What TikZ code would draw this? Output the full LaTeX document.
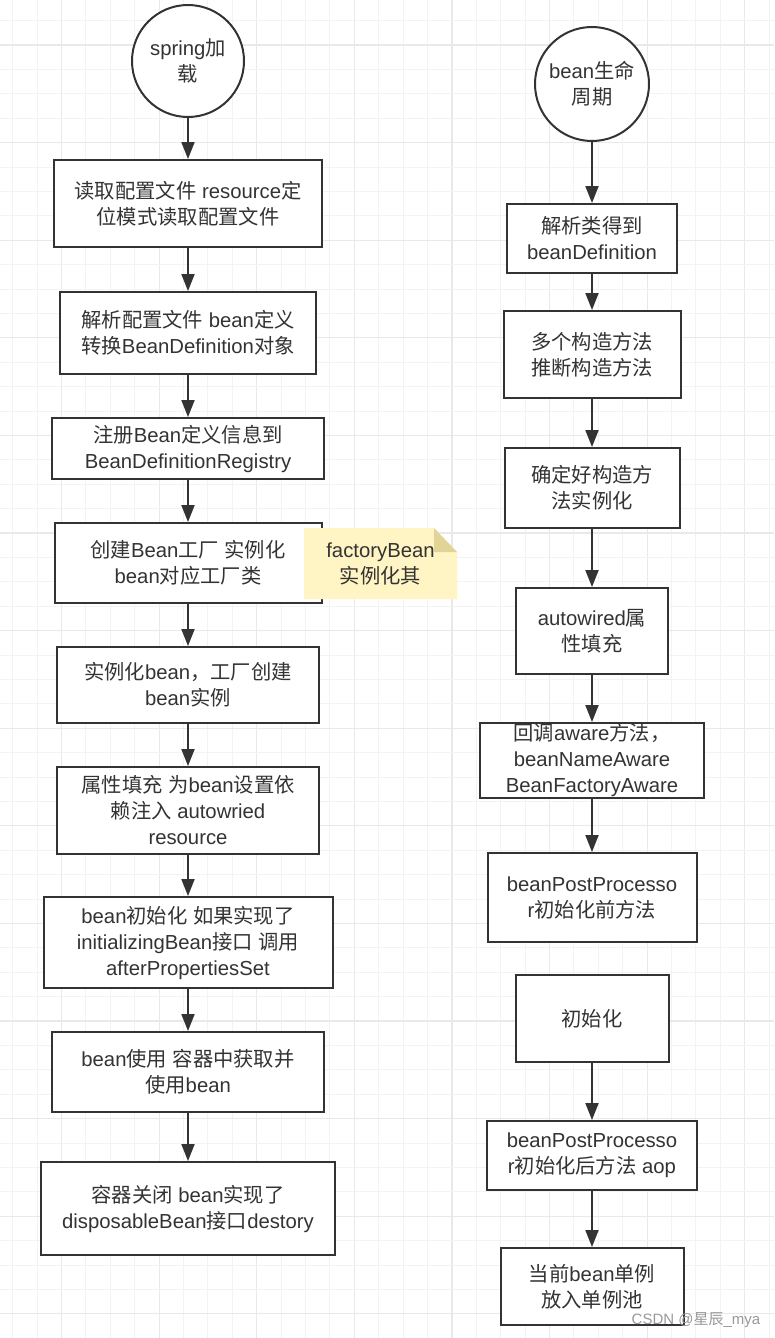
\documentclass[tikz,border=0pt]{standalone}
\usepackage{fontspec}
\setmainfont{Liberation Sans}
\newfontfamily\cjk{Noto Sans CJK SC}
\newcommand\zh[1]{{\cjk #1}}
\usetikzlibrary{arrows.meta}
\definecolor{ink}{HTML}{333333}
\definecolor{gridminor}{HTML}{F3F3F3}
\definecolor{gridmajor}{HTML}{E9E9E9}
\definecolor{notefill}{HTML}{FFF4C3}
\definecolor{foldfill}{HTML}{E2D396}
\tikzset{
  box/.style={draw=ink, line width=2pt, fill=white, inner sep=0pt, align=center,
    text=ink, font=\fontsize{20.3}{26}\selectfont},
  rnd/.style={box, circle},
  flow/.style={draw=ink, line width=2pt, -{Triangle[length=17pt,width=13pt]}},
  notebox/.style={inner sep=0pt, align=center, text=ink,
    font=\fontsize{20.3}{26}\selectfont, minimum width=153pt, minimum height=71pt},
  wmark/.style={text=black!40, font=\fontsize{15}{18}\selectfont, inner sep=0pt},
}
\begin{document}
\begin{tikzpicture}[x=1pt,y=-1pt]
\useasboundingbox (0,0) rectangle (774,1338);
\fill[white] (0,0) rectangle (774,1338);
% grid
\foreach \i in {0,...,31}{
  \pgfmathtruncatemacro\m{mod(\i,4)}
  \pgfmathsetmacro\xx{12.7+24.4*\i}
  \ifnum\m=2 \draw[gridmajor, line width=1.2pt] (\xx,0) -- (\xx,1338);
  \else \draw[gridminor, line width=1pt] (\xx,0) -- (\xx,1338); \fi
}
\foreach \j in {0,...,54}{
  \pgfmathtruncatemacro\m{mod(\j,4)}
  \pgfmathsetmacro\yy{20.6+24.4*\j}
  \ifnum\m=1 \draw[gridmajor, line width=1.2pt] (0,\yy) -- (774,\yy);
  \else \draw[gridminor, line width=1pt] (0,\yy) -- (774,\yy); \fi
}
% left column
\node[rnd, minimum size=112pt] (c1) at (188,61) {spring\zh{加}\\\zh{载}};
\node[box, minimum width=268pt, minimum height=87pt] (b1) at (188,203.5)
  {\zh{读取配置文件} resource\zh{定}\\\zh{位模式读取配置文件}};
\node[box, minimum width=256pt, minimum height=82pt] (b2) at (188,333)
  {\zh{解析配置文件} bean\zh{定义}\\\zh{转换}BeanDefinition\zh{对象}};
\node[box, minimum width=272pt, minimum height=61pt] (b3) at (188,448.5)
  {\zh{注册}Bean\zh{定义信息到}\\BeanDefinitionRegistry};
\node[box, minimum width=267pt, minimum height=80pt] (b4) at (188,563)
  {\zh{创建}Bean\zh{工厂} \zh{实例化}\\bean\zh{对应工厂类}};
\node[box, minimum width=262pt, minimum height=76pt] (b5) at (188,685)
  {\zh{实例化}bean\zh{，工厂创建}\\bean\zh{实例}};
\node[box, minimum width=262pt, minimum height=87pt] (b6) at (188,810.5)
  {\zh{属性填充} \zh{为}bean\zh{设置依}\\\zh{赖注入} autowried\\resource};
\node[box, minimum width=289pt, minimum height=91pt] (b7) at (188,942.5)
  {bean\zh{初始化} \zh{如果实现了}\\initializingBean\zh{接口} \zh{调用}\\afterPropertiesSet};
\node[box, minimum width=272pt, minimum height=80pt] (b8) at (188,1072)
  {bean\zh{使用} \zh{容器中获取并}\\\zh{使用}bean};
\node[box, minimum width=294pt, minimum height=93pt] (b9) at (188,1208.5)
  {\zh{容器关闭} bean\zh{实现了}\\disposableBean\zh{接口}destory};
% note
\path (380.5,563.5) coordinate (nc);
\fill[notefill] ([shift={(-76.5,-35.5)}]nc) -- ([shift={(53.5,-35.5)}]nc)
  -- ([shift={(76.5,-11.5)}]nc) -- ([shift={(76.5,35.5)}]nc)
  -- ([shift={(-76.5,35.5)}]nc) -- cycle;
\fill[foldfill] ([shift={(53.5,-35.5)}]nc) -- ([shift={(76.5,-11.5)}]nc)
  -- ([shift={(53.5,-11.5)}]nc) -- cycle;
\node[notebox] (note) at (nc) {factoryBean\\\zh{实例化其}};
\foreach \a/\b in {c1/b1,b1/b2,b2/b3,b3/b4,b4/b5,b5/b6,b6/b7,b7/b8,b8/b9}
  \draw[flow] (\a.south) -- (\b.north);
% right column
\node[rnd, minimum size=114pt] (c2) at (592,84) {bean\zh{生命}\\\zh{周期}};
\node[box, minimum width=170pt, minimum height=69pt] (r1) at (592,238.5)
  {\zh{解析类得到}\\beanDefinition};
\node[box, minimum width=177pt, minimum height=87pt] (r2) at (592,354.5)
  {\zh{多个构造方法}\\\zh{推断构造方法}};
\node[box, minimum width=175pt, minimum height=80pt] (r3) at (592,488)
  {\zh{确定好构造方}\\\zh{法实例化}};
\node[box, minimum width=152pt, minimum height=86pt] (r4) at (592,631)
  {autowired\zh{属}\\\zh{性填充}};
\node[box, minimum width=224pt, minimum height=75pt] (r5) at (592,760.5)
  {\zh{回调}aware\zh{方法，}\\beanNameAware\\BeanFactoryAware};
\node[box, minimum width=209pt, minimum height=89pt] (r6) at (592,897.5)
  {beanPostProcesso\\r\zh{初始化前方法}};
\node[box, minimum width=153pt, minimum height=87pt] (r7) at (592,1018.5)
  {\zh{初始化}};
\node[box, minimum width=210pt, minimum height=69pt] (r8) at (592,1155.5)
  {beanPostProcesso\\r\zh{初始化后方法} aop};
\node[box, minimum width=183pt, minimum height=77pt] (r9) at (592,1286.5)
  {\zh{当前}bean\zh{单例}\\\zh{放入单例池}};
\foreach \a/\b in {c2/r1,r1/r2,r2/r3,r3/r4,r4/r5,r5/r6,r7/r8,r8/r9}
  \draw[flow] (\a.south) -- (\b.north);
% watermark
\node[wmark] (wm) at (696,1320) {CSDN @\zh{星辰}\_mya};
\end{tikzpicture}
\end{document}
